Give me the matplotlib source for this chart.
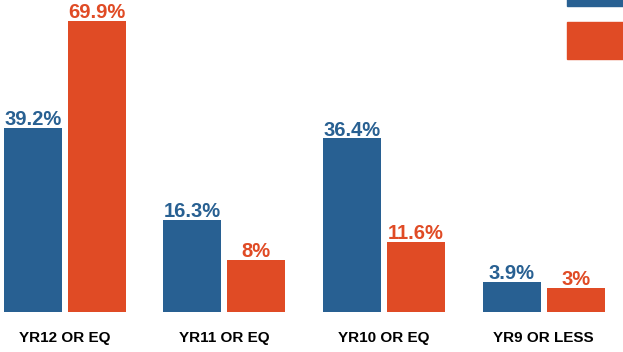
import numpy as np
import matplotlib
matplotlib.use("Agg")
import matplotlib.pyplot as plt
from matplotlib.patches import Patch

plt.rcParams['font.family'] = ['Liberation Sans', 'DejaVu Sans']

categories = ['YR12 OR EQ', 'YR11 OR EQ', 'YR10 OR EQ', 'YR9 OR LESS']
series_a = [39.2, 16.3, 36.4, 3.9]
series_b = [69.9, 8.0, 11.6, 3.0]
series_names = ['Series A', 'Series B']

BLUE = '#286092'
ORANGE = '#e04b25'

# bar heights in the picture follow a power scale, not a linear one
POW = 0.79
def fwd(v):
    return np.sign(v) * np.abs(v) ** POW
def inv(v):
    return np.sign(v) * np.abs(v) ** (1 / POW)

W, H = 623, 352
fig = plt.figure(figsize=(W / 100, H / 100), dpi=100)
ax = fig.add_axes([0, 40 / H, 1, 312 / H])

x = np.arange(len(categories))
bw = 0.363
off = 0.2
bars_a = ax.bar(x - off, series_a, bw, color=BLUE, label=series_names[0])
bars_b = ax.bar(x + off, series_b, bw, color=ORANGE, label=series_names[1])

for xi, v in zip(x - off, series_a):
    ax.annotate(f'{v:g}%', (xi, v), xytext=(0, 2), textcoords='offset points',
                ha='center', va='baseline', fontsize=14.5, fontweight='bold', color=BLUE)
for xi, v in zip(x + off, series_b):
    ax.annotate(f'{v:g}%', (xi, v), xytext=(0, 2), textcoords='offset points',
                ha='center', va='baseline', fontsize=14.5, fontweight='bold', color=ORANGE)

ax.set_yscale('function', functions=(fwd, inv))
ymax = inv(312 / 10.15)
ax.set_ylim(0, ymax)
ax.set_xlim(-0.4056, 3.497)

ax.set_xticks(x)
ax.set_xticklabels(categories, fontsize=11, fontweight='bold')
ax.tick_params(axis='x', length=0, pad=14)
ax.set_yticks([])
for s in ax.spines.values():
    s.set_visible(False)

# legend is cropped at the top right edge; its labels are not visible
handles = [Patch(color=BLUE), Patch(color=ORANGE)]
fig.legend(handles, ['', ''], loc='upper left',
           bbox_to_anchor=(567 / W, 1 + 31 / H), frameon=False,
           borderpad=0, borderaxespad=0, fontsize=11,
           handlelength=5.5, handleheight=3.36, labelspacing=1.05, handletextpad=0.8)

fig.savefig('out.png', dpi=100)
